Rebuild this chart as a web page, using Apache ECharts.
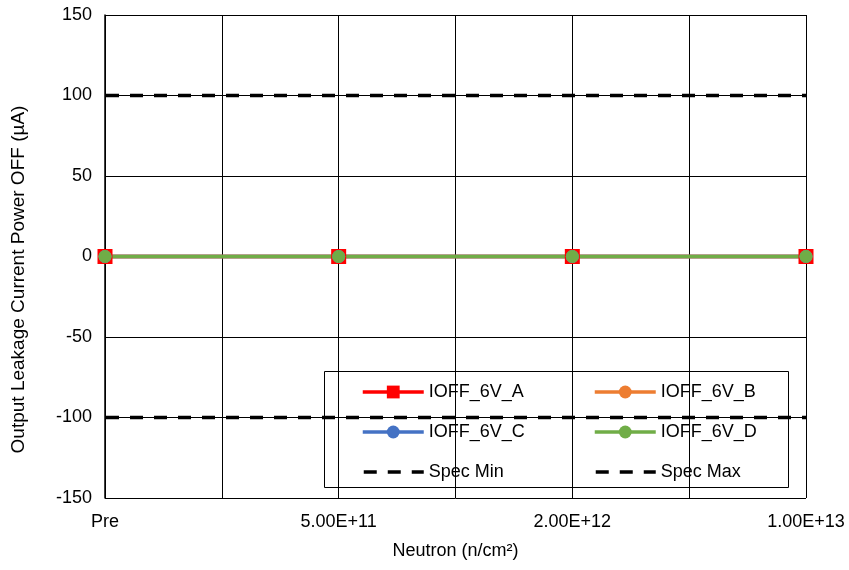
<!DOCTYPE html>
<html>
<head>
<meta charset="utf-8">
<script src="https://cdn.jsdelivr.net/npm/echarts@6/dist/echarts.min.js"></script>
<style>
html,body{margin:0;padding:0;background:#fff;}
#chart{width:849px;height:570px;}
</style>
</head>
<body>
<div id="chart"></div>
<script>
// Categories (with empty slots between labelled fluence levels, as gridlines in the reference)
var categories = ['Pre', '', '5.00E+11', '', '2.00E+12', '', '1.00E+13'];
// Series values at each labelled category (null = unlabelled gap slot)
var ioffA = [0, null, 0, null, 0, null, 0];
var ioffB = [0, null, 0, null, 0, null, 0];
var ioffC = [0, null, 0, null, 0, null, 0];
var ioffD = [0, null, 0, null, 0, null, 0];
var specMin = [-100, null, -100, null, -100, null, -100];
var specMax = [100, null, 100, null, 100, null, 100];
var yTicks = {min: -150, max: 150, interval: 50};

var FONT = 'Liberation Sans, Arial, sans-serif';
var chart = echarts.init(document.getElementById('chart'), null, {renderer: 'canvas'});

function dataSeries(name, data, color, symbol, size) {
  return {
    name: name, type: 'line', data: data, connectNulls: true,
    symbol: symbol, symbolSize: size,
    lineStyle: {color: color, width: 3.5},
    itemStyle: {color: color},
    emphasis: {disabled: true}, z: 3
  };
}
function specSeries(name, data) {
  return {
    name: name, type: 'line', data: data, connectNulls: true,
    symbol: 'none',
    lineStyle: {color: '#000', width: 3.5, type: [13, 11], dashOffset: -1},
    itemStyle: {color: '#000'},
    emphasis: {disabled: true}, z: 2
  };
}

var legendText = {fontFamily: FONT, fontSize: 18, color: '#000'};
var legendCommon = {
  orient: 'vertical', top: 383, padding: 0,
  itemWidth: 61, itemHeight: 16, itemGap: 22,
  textStyle: legendText,
  lineStyle: {width: 3.5},
  selectedMode: false
};
chart.setOption({
  animation: false,
  backgroundColor: '#fff',
  grid: {left: 105, right: 43, top: 15, bottom: 72},
  xAxis: {
    type: 'category', data: categories, boundaryGap: false,
    name: 'Neutron (n/cm²)', nameLocation: 'middle', nameGap: 44,
    nameTextStyle: {fontFamily: FONT, fontSize: 18, color: '#000'},
    axisLine: {lineStyle: {color: '#000', width: 1.5}},
    axisTick: {show: false},
    axisLabel: {interval: 0, margin: 15, fontFamily: FONT, fontSize: 18, color: '#000'},
    splitLine: {show: true, interval: 0, lineStyle: {color: '#000', width: 1}}
  },
  yAxis: {
    type: 'value', min: yTicks.min, max: yTicks.max, interval: yTicks.interval,
    name: 'Output Leakage Current Power OFF (µA)', nameLocation: 'middle', nameGap: 77,
    nameTextStyle: {fontFamily: FONT, fontSize: 19, color: '#000', padding: [0, 46, 0, 0]},
    axisLine: {show: true, lineStyle: {color: '#000', width: 1.5}},
    axisTick: {show: false},
    axisLabel: {margin: 13, fontFamily: FONT, fontSize: 18, color: '#000'},
    splitLine: {show: true, lineStyle: {color: '#000', width: 1}}
  },
  legend: [
    Object.assign({}, legendCommon, {
      left: 361,
      data: ['IOFF_6V_A', 'IOFF_6V_C', {name: 'Spec Min', itemStyle: {opacity: 0}}]
    }),
    Object.assign({}, legendCommon, {
      left: 593,
      data: ['IOFF_6V_B', 'IOFF_6V_D', {name: 'Spec Max', itemStyle: {opacity: 0}}]
    })
  ],
  graphic: [{
    type: 'rect', left: 324, top: 371, z: 0,
    shape: {width: 464, height: 116},
    style: {fill: '#fff', stroke: '#000', lineWidth: 1}
  }],
  series: [
    specSeries('Spec Min', specMin),
    specSeries('Spec Max', specMax),
    dataSeries('IOFF_6V_A', ioffA, '#FF0000', 'rect', 15),
    dataSeries('IOFF_6V_B', ioffB, '#ED7D31', 'circle', 13),
    dataSeries('IOFF_6V_C', ioffC, '#4472C4', 'circle', 13),
    dataSeries('IOFF_6V_D', ioffD, '#70AD47', 'circle', 13)
  ]
});
</script>
</body>
</html>
